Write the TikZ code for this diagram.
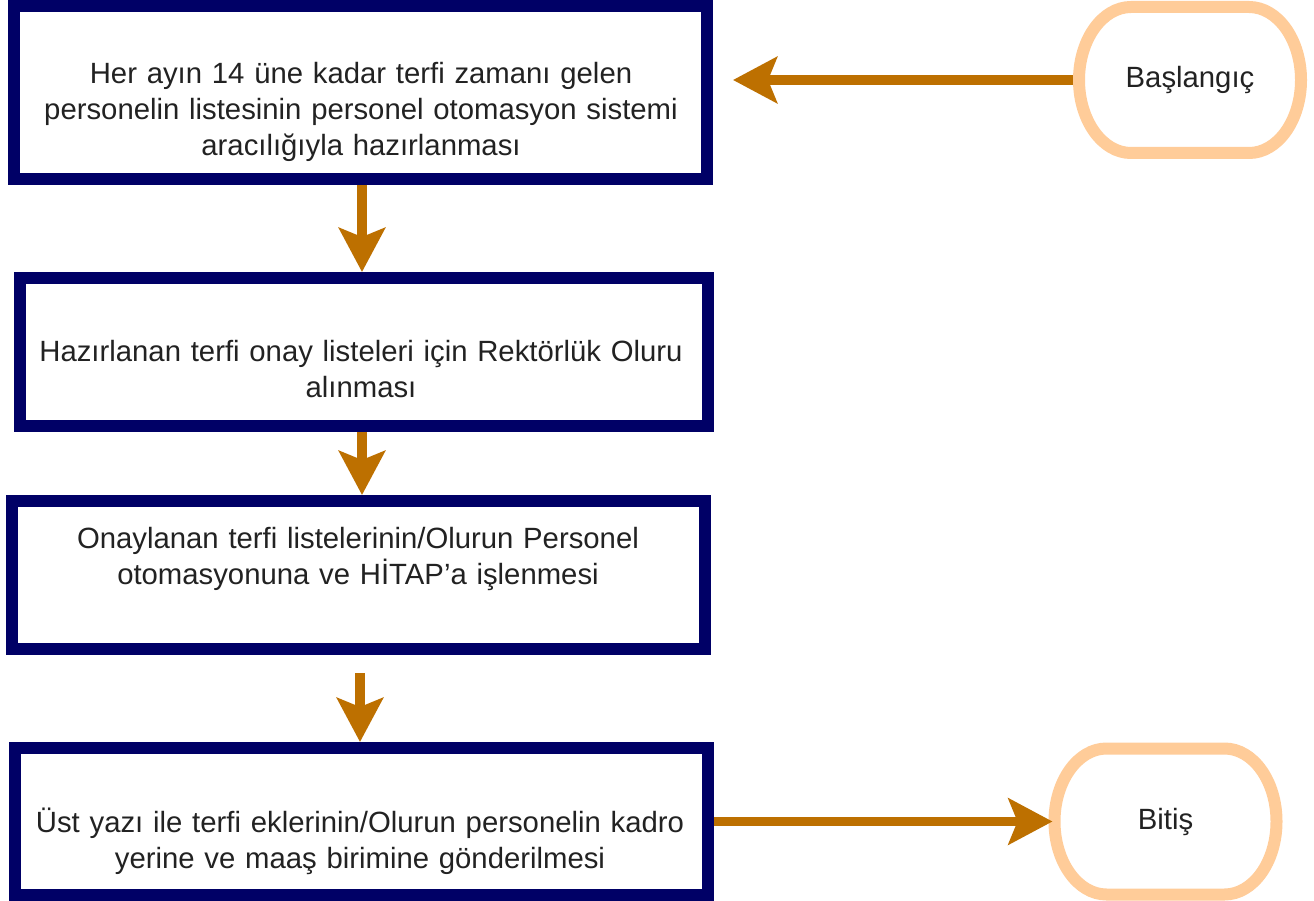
\documentclass[tikz,border=0pt]{standalone}
\usepackage{fontspec}
\setmainfont{Liberation Sans}
\usetikzlibrary{arrows.meta,calc}
\definecolor{navy}{HTML}{000066}
\definecolor{arrorange}{HTML}{BD7000}
\definecolor{peach}{HTML}{FFCC99}
\definecolor{txt}{HTML}{222222}
\tikzset{
  stepbox/.style={draw=navy, line width=12pt, rectangle, inner sep=0pt, minimum width=#1},
  ovalnode/.style={rectangle, inner sep=0pt, outer sep=0pt, minimum width=222pt, minimum height=146pt, text=txt, font=\fontsize{29.3}{36}\selectfont},
  ovalline/.style={draw=peach, line width=12pt},
  boxtext/.style={text width=700pt, align=center, anchor=base, inner sep=0pt, text=txt, font=\fontsize{29.3}{36}\selectfont},
  flow/.style={draw=arrorange, line width=9.5pt, -{Stealth[length=44pt, width=46pt, inset=9pt]}},
}
\begin{document}
\begin{tikzpicture}[x=1pt,y=-1pt]
\useasboundingbox (0,0) rectangle (1314,901);
\fill[white] (0,0) rectangle (1314,901);

% process boxes
\node[stepbox=693pt, minimum height=173pt] (box1) at (360.5,92.5) {};
\node[stepbox=687.5pt, minimum height=148pt] (box2) at (363.75,352) {};
\node[stepbox=693pt, minimum height=148pt] (box3) at (358.5,575) {};
\node[stepbox=693.5pt, minimum height=147pt] (box4) at (361.25,821.5) {};

\node[boxtext] (t1) at (361,84) {Her ayın 14 üne kadar terfi zamanı gelen\\personelin listesinin personel otomasyon sistemi\\aracılığıyla hazırlanması};
\node[boxtext] (t2) at (361,361) {Hazırlanan terfi onay listeleri için Rektörlük Oluru\\alınması};
\node[boxtext] (t3) at (358,548) {Onaylanan terfi listelerinin/Olurun Personel\\otomasyonuna ve HİTAP’a işlenmesi};
\node[boxtext] (t4) at (360,832) {Üst yazı ile terfi eklerinin/Olurun personelin kadro\\yerine ve maaş birimine gönderilmesi};

% terminators
\node[ovalnode] (start) at (1190,80) {Başlangıç};
\node[ovalnode] (end) at (1165.5,821.5) {Bitiş};
\foreach \n in {start,end}{
  \draw[ovalline] ([xshift=52pt]\n.north west) -- ([xshift=-52pt]\n.north east)
    arc[start angle=90, end angle=-90, x radius=52pt, y radius=73pt]
    -- ([xshift=52pt]\n.south west)
    arc[start angle=270, end angle=90, x radius=52pt, y radius=73pt] -- cycle;
}

% connectors
\coordinate (a4) at (360,673);
\draw[flow, shorten <=6pt, shorten >=20pt] (start.west) -- (start.west -| box1.east);
\draw[flow] (box1.south -| 362,0) -- (box2.north -| 362,0);
\draw[flow] (box2.south -| 362,0) -- (box3.north -| 362,0);
\draw[flow] (a4) -- (a4 |- box4.north);
\draw[flow, shorten >=2pt] (box4.east) -- (box4.east -| end.west);
\end{tikzpicture}
\end{document}
